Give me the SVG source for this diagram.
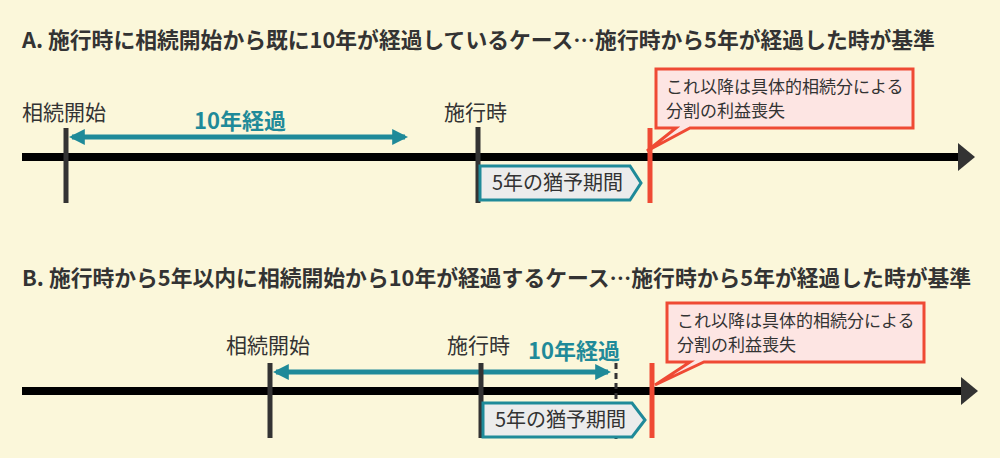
<svg xmlns="http://www.w3.org/2000/svg" width="1000" height="458" viewBox="0 0 1000 458">
<style>
text{font-family:"Noto Sans CJK JP","Noto Sans",sans-serif;fill:#333}
.t{font-size:21.8px;font-weight:bold}
.l{font-size:21px}
.g{font-size:22px;font-weight:bold;fill:#1f8a99}
.b{font-size:20px}
.c{font-size:17px}
.axis{stroke:#000;stroke-width:8}
.tick{stroke:#333;stroke-width:5}
.red{stroke:#ef4a34;stroke-width:5}
.teal{stroke:#1f8a99;stroke-width:5}
.box{fill:#ececec;stroke:#1f8a99;stroke-width:3}
.call{fill:#fde5e3;stroke:#ef4a34;stroke-width:3}
</style>
<defs>
<marker id="ah" viewBox="0 0 10 10" refX="8" refY="5" markerWidth="3.2" markerHeight="3.2" orient="auto-start-reverse"><path d="M0,0L10,5L0,10z" fill="#1f8a99"/></marker>
</defs>
<rect width="1000" height="458" fill="#fbf7da"/>
<text class="t" x="22" y="48">A. 施行時に相続開始から既に10年が経過しているケース…施行時から5年が経過した時が基準</text>
<text class="t" x="22" y="286">B. 施行時から5年以内に相続開始から10年が経過するケース…施行時から5年が経過した時が基準</text>
<g id="connectors">
<line class="axis" x1="22" y1="157" x2="962" y2="157"/><path d="M958,143L975,157L958,171z" fill="#333"/>
<line class="axis" x1="22" y1="391" x2="965" y2="391"/><path d="M961,377L978,391L961,405z" fill="#333"/>
<line class="teal" x1="72" y1="137" x2="405" y2="137" marker-start="url(#ah)" marker-end="url(#ah)"/>
<line class="teal" x1="276" y1="372" x2="608" y2="372" marker-start="url(#ah)" marker-end="url(#ah)"/>
<line x1="616" y1="363" x2="616" y2="440" stroke="#333" stroke-width="3" stroke-dasharray="6,4"/>
</g>
<g id="nodeA1"><line class="tick" x1="66" y1="128" x2="66" y2="203"/><text class="l" x="22" y="120">相続開始</text><text class="g" x="240" y="129" text-anchor="middle">10年経過</text></g>
<g id="nodeA2"><line class="tick" x1="478" y1="127" x2="478" y2="203"/><text class="l" x="444" y="120">施行時</text></g>
<g id="nodeA3"><path class="box" d="M480,166H630L641,183L630,200H480z"/><text class="b" x="492" y="190">5年の猶予期間</text></g>
<g id="nodeA4"><line class="red" x1="650" y1="128" x2="650" y2="203"/>
<path class="call" d="M656,69H913V128H690L647,151L676,128H656z"/>
<text class="c" x="666" y="93">これ以降は具体的相続分による</text><text class="c" x="666" y="117">分割の利益喪失</text></g>
<g id="nodeB1"><line class="tick" x1="270" y1="363" x2="270" y2="438"/><text class="l" x="226" y="353">相続開始</text></g>
<g id="nodeB2"><line class="tick" x1="481" y1="363" x2="481" y2="438"/><text class="l" x="447" y="353">施行時</text><text class="g" x="574" y="359" text-anchor="middle">10年経過</text></g>
<g id="nodeB3"><path class="box" d="M483,403H632L645,420L632,437H483z"/><text class="b" x="495" y="427">5年の猶予期間</text></g>
<g id="nodeB4"><line class="red" x1="652" y1="363" x2="652" y2="438"/>
<path class="call" d="M667,303H924V362H704L655,385L690,362H667z"/>
<text class="c" x="677" y="327">これ以降は具体的相続分による</text><text class="c" x="677" y="351">分割の利益喪失</text></g>
</svg>
